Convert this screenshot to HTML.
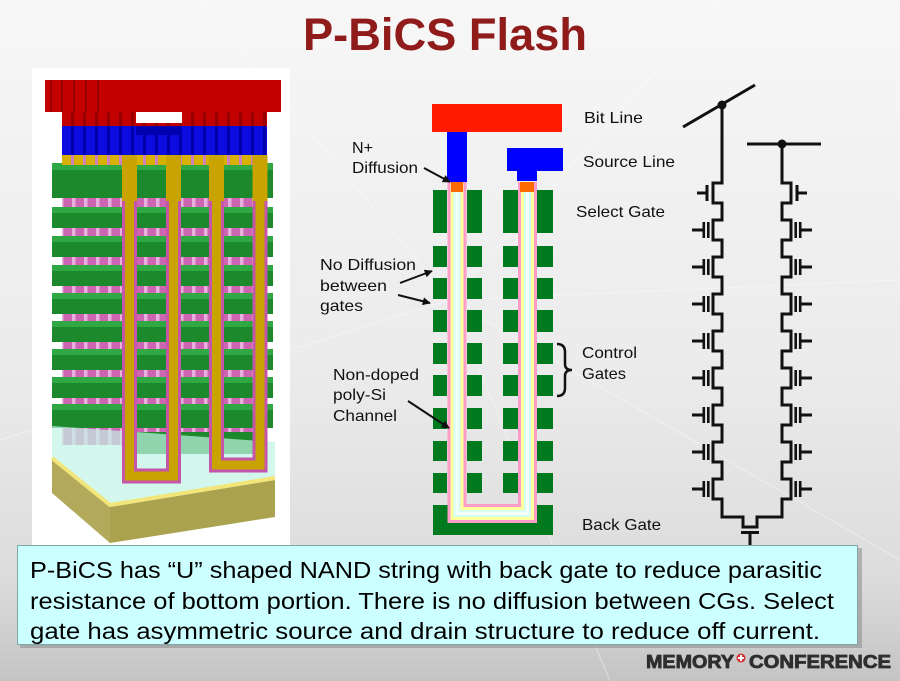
<!DOCTYPE html>
<html>
<head>
<meta charset="utf-8">
<style>
html,body{margin:0;padding:0;width:900px;height:681px;overflow:hidden;background:#eee;}
svg{display:block;}
</style>
</head>
<body>
<svg width="900" height="681" viewBox="0 0 900 681" xmlns="http://www.w3.org/2000/svg">
<defs>
  <linearGradient id="bg" x1="0" y1="0" x2="0" y2="1">
    <stop offset="0" stop-color="#f7f7f7"/>
    <stop offset="0.55" stop-color="#ebebeb"/>
    <stop offset="0.85" stop-color="#dcdcdc"/>
    <stop offset="1" stop-color="#c4c4c4"/>
  </linearGradient>
  <pattern id="pk" width="12" height="10" patternUnits="userSpaceOnUse" x="62" y="0">
    <rect width="12" height="10" fill="#e8b0dc"/>
    <rect x="1.5" width="8.5" height="10" fill="#cc66b2"/>
  </pattern>
  <pattern id="redst" width="12" height="10" patternUnits="userSpaceOnUse" x="62" y="0">
    <rect width="12" height="10" fill="#c20000"/>
    <rect x="9" width="3" height="10" fill="#980000"/>
  </pattern>
  <pattern id="bluest" width="12" height="10" patternUnits="userSpaceOnUse" x="62" y="0">
    <rect width="12" height="10" fill="#0c0ce0"/>
    <rect x="9" width="3" height="10" fill="#0000a8"/>
  </pattern>
  <pattern id="goldst" width="12" height="10" patternUnits="userSpaceOnUse" x="62" y="0">
    <rect width="12" height="10" fill="#d8b000"/>
    <rect x="9" width="3" height="10" fill="#d080b8"/>
  </pattern>
  <marker id="ah" viewBox="0 0 10 10" refX="9" refY="5" markerWidth="9" markerHeight="8" markerUnits="userSpaceOnUse" orient="auto">
    <path d="M0,0 L10,5 L0,10 z" fill="#111"/>
  </marker>
</defs>

<!-- background -->
<rect x="0" y="0" width="900" height="681" fill="url(#bg)"/>
<g stroke="#ffffff" stroke-opacity="0.35" stroke-width="1.2" fill="none">
  <path d="M450,300 L900,280"/>
  <path d="M450,300 L720,0"/>
  <path d="M450,300 L610,681"/>
  <path d="M450,300 L0,440"/>
  <path d="M450,300 L200,0"/>
  <path d="M450,300 L900,560"/>
</g>

<!-- Title -->
<text x="303" y="50" font-family="Liberation Sans, sans-serif" font-weight="bold" font-size="45" fill="#8f1b1b" textLength="284" lengthAdjust="spacingAndGlyphs">P-BiCS Flash</text>

<!-- ============ LEFT 3D STRUCTURE ============ -->
<rect x="32" y="68" width="258" height="477" fill="#ffffff"/>

<!-- pillars background -->
<rect x="62" y="155" width="205" height="290" fill="url(#pk)"/>

<!-- green bars -->
<g>
  <rect x="52" y="163" width="221" height="35" fill="#1c8a2c"/>
  <rect x="52" y="163" width="221" height="7" fill="#2fa843"/>

  <rect x="52" y="207" width="221" height="21" fill="#1c8a2c"/>
  <rect x="52" y="207" width="221" height="6" fill="#2fa843"/>
  <rect x="52" y="236" width="221" height="21" fill="#1c8a2c"/>
  <rect x="52" y="236" width="221" height="6" fill="#2fa843"/>
  <rect x="52" y="265" width="221" height="21" fill="#1c8a2c"/>
  <rect x="52" y="265" width="221" height="6" fill="#2fa843"/>
  <rect x="52" y="293" width="221" height="21" fill="#1c8a2c"/>
  <rect x="52" y="293" width="221" height="6" fill="#2fa843"/>
  <rect x="52" y="321" width="221" height="21" fill="#1c8a2c"/>
  <rect x="52" y="321" width="221" height="6" fill="#2fa843"/>
  <rect x="52" y="349" width="221" height="21" fill="#1c8a2c"/>
  <rect x="52" y="349" width="221" height="6" fill="#2fa843"/>
  <rect x="52" y="377" width="221" height="21" fill="#1c8a2c"/>
  <rect x="52" y="377" width="221" height="6" fill="#2fa843"/>
  <rect x="52" y="404" width="221" height="24" fill="#1c8a2c"/>
  <rect x="52" y="404" width="221" height="6" fill="#2fa843"/>
  <rect x="130" y="432" width="130" height="22" fill="#1c8a2c"/>
</g>

<!-- top stack -->
<rect x="62" y="152" width="205" height="13" fill="url(#goldst)"/>
<rect x="62" y="125" width="205" height="30" fill="url(#bluest)"/>
<rect x="136" y="125" width="46" height="10" fill="#0000b0"/>
<rect x="62" y="110" width="205" height="16" fill="url(#redst)"/>
<rect x="136" y="110" width="46" height="13" fill="#ffffff"/>
<rect x="45" y="80" width="236" height="32" fill="#c20000"/>
<g fill="#9a0000">
  <rect x="50" y="80" width="2" height="32"/>
  <rect x="61" y="80" width="2" height="32"/>
  <rect x="73" y="80" width="2" height="32"/>
  <rect x="85" y="80" width="2" height="32"/>
  <rect x="97" y="80" width="2" height="32"/>
</g>

<!-- cyan slab -->
<polygon points="52,426 275,442 275,480 110,507 52,460" fill="#c2f4e6" fill-opacity="0.7"/>

<!-- olive base -->
<polygon points="52,460 110,507 110,543 52,493" fill="#b2aa5a"/>
<polygon points="110,507 275,480 275,517 110,543" fill="#aaa24e"/>
<polyline points="52,458 110,505 275,478" fill="none" stroke="#f2e67a" stroke-width="4"/>

<!-- U channels -->
<g fill="none" stroke-linejoin="miter">
  <path d="M129.5,200 V476 H173.5 V200" stroke="#c455a8" stroke-width="15"/>
  <path d="M129.5,155 V476 H173.5 V155" stroke="#c9a400" stroke-width="9"/>
  <rect x="122" y="155" width="15" height="46" fill="#c9a400" stroke="none"/>
  <rect x="166" y="155" width="15" height="46" fill="#c9a400" stroke="none"/>

  <path d="M216.5,200 V465 H260 V200" stroke="#c455a8" stroke-width="15"/>
  <path d="M216.5,155 V465 H260 V155" stroke="#c9a400" stroke-width="9"/>
  <rect x="209" y="155" width="15" height="46" fill="#c9a400" stroke="none"/>
  <rect x="252.5" y="155" width="15" height="46" fill="#c9a400" stroke="none"/>
</g>

<!-- ============ MIDDLE CROSS-SECTION ============ -->
<rect x="432" y="104" width="130" height="28" fill="#ff1a00"/>
<rect x="447" y="132" width="20" height="50" fill="#0000ff"/>
<rect x="507" y="148" width="56" height="23" fill="#0000ff"/>
<rect x="517" y="170" width="20" height="11" fill="#0000ff"/>

<g fill="#007a1e">
  <rect x="433" y="190" width="14" height="43"/>
  <rect x="467" y="190" width="15" height="43"/>
  <rect x="503" y="190" width="15" height="43"/>
  <rect x="537" y="190" width="16" height="43"/>
  <g>
    <rect x="433" y="246" width="14" height="21"/><rect x="467" y="246" width="15" height="21"/><rect x="503" y="246" width="15" height="21"/><rect x="537" y="246" width="16" height="21"/>
    <rect x="433" y="278" width="14" height="21"/><rect x="467" y="278" width="15" height="21"/><rect x="503" y="278" width="15" height="21"/><rect x="537" y="278" width="16" height="21"/>
    <rect x="433" y="310" width="14" height="22"/><rect x="467" y="310" width="15" height="22"/><rect x="503" y="310" width="15" height="22"/><rect x="537" y="310" width="16" height="22"/>
    <rect x="433" y="343" width="14" height="21"/><rect x="467" y="343" width="15" height="21"/><rect x="503" y="343" width="15" height="21"/><rect x="537" y="343" width="16" height="21"/>
    <rect x="433" y="375" width="14" height="21"/><rect x="467" y="375" width="15" height="21"/><rect x="503" y="375" width="15" height="21"/><rect x="537" y="375" width="16" height="21"/>
    <rect x="433" y="408" width="14" height="21"/><rect x="467" y="408" width="15" height="21"/><rect x="503" y="408" width="15" height="21"/><rect x="537" y="408" width="16" height="21"/>
    <rect x="433" y="441" width="14" height="20"/><rect x="467" y="441" width="15" height="20"/><rect x="503" y="441" width="15" height="20"/><rect x="537" y="441" width="16" height="20"/>
    <rect x="433" y="473" width="14" height="20"/><rect x="467" y="473" width="15" height="20"/><rect x="503" y="473" width="15" height="20"/><rect x="537" y="473" width="16" height="20"/>
  </g>
  <rect x="433" y="505" width="120" height="30"/>
</g>

<g fill="none" stroke-linejoin="miter">
  <path d="M457,182 V513.5 H527.5 V182" stroke="#ff9cc8" stroke-width="19"/>
  <path d="M457,182 V513.5 H527.5 V182" stroke="#ffff9c" stroke-width="13"/>
  <path d="M457,182 V513.5 H527.5 V182" stroke="#d6fff2" stroke-width="7"/>
  <path d="M457,182 V513.5 H527.5 V182" stroke="#f2fffb" stroke-width="3"/>
</g>
<rect x="451" y="182" width="12" height="10" fill="#ff6a00"/>
<rect x="520" y="182" width="14" height="10" fill="#ff6a00"/>

<g font-family="Liberation Sans, sans-serif" font-size="16" fill="#111">
  <text x="584" y="123" textLength="59" lengthAdjust="spacingAndGlyphs">Bit Line</text>
  <text x="583" y="167" textLength="92" lengthAdjust="spacingAndGlyphs">Source Line</text>
  <text x="576" y="217" textLength="89" lengthAdjust="spacingAndGlyphs">Select Gate</text>
  <text x="582" y="358" textLength="55" lengthAdjust="spacingAndGlyphs">Control</text>
  <text x="582" y="379" textLength="44" lengthAdjust="spacingAndGlyphs">Gates</text>
  <text x="582" y="530" textLength="79" lengthAdjust="spacingAndGlyphs">Back Gate</text>

  <text x="352" y="153" textLength="21" lengthAdjust="spacingAndGlyphs">N+</text>
  <text x="352" y="173" textLength="66" lengthAdjust="spacingAndGlyphs">Diffusion</text>
  <text x="320" y="270" textLength="96" lengthAdjust="spacingAndGlyphs">No Diffusion</text>
  <text x="320" y="291" textLength="67" lengthAdjust="spacingAndGlyphs">between</text>
  <text x="320" y="311" textLength="43" lengthAdjust="spacingAndGlyphs">gates</text>
  <text x="333" y="380" textLength="86" lengthAdjust="spacingAndGlyphs">Non-doped</text>
  <text x="333" y="400" textLength="53" lengthAdjust="spacingAndGlyphs">poly-Si</text>
  <text x="333" y="421" textLength="64" lengthAdjust="spacingAndGlyphs">Channel</text>
</g>

<g stroke="#111" stroke-width="2" fill="none">
  <line x1="424" y1="168" x2="450" y2="182" marker-end="url(#ah)"/>
  <line x1="400" y1="283" x2="432" y2="271" marker-end="url(#ah)"/>
  <line x1="398" y1="295" x2="430" y2="303" marker-end="url(#ah)"/>
  <line x1="408" y1="401" x2="449" y2="428" marker-end="url(#ah)"/>
</g>
<path d="M557,344 Q565,344 565,352 V364 Q565,370 572,370 Q565,370 565,376 V388 Q565,396 557,396" fill="none" stroke="#111" stroke-width="2.5"/>

<!-- ============ RIGHT CIRCUIT ============ -->
<g stroke="#111" stroke-width="3" fill="none" stroke-linejoin="miter">
  <line x1="683" y1="127" x2="755" y2="85"/>
  <line x1="747" y1="144" x2="821" y2="144"/>
  <path d="M722,105 V183 H713 V203 H722 V220 H713 V240 H722 V257 H713 V277 H722 V294 H713 V314 H722 V331 H713 V351 H722 V368 H713 V388 H722 V405 H713 V425 H722 V442 H713 V462 H722 V479 H713 V499 H722 V517 H743 V527 H757 V517 H782 V499 H791 V479 H782 V462 H791 V442 H782 V425 H791 V405 H782 V388 H791 V368 H782 V351 H791 V331 H782 V314 H791 V294 H782 V277 H791 V257 H782 V240 H791 V220 H782 V203 H791 V183 H782 V144"/>
</g>
<circle cx="722" cy="105" r="4.5" fill="#111"/>
<circle cx="782" cy="144" r="4.5" fill="#111"/>

<g fill="#111">
  <rect x="705.5" y="185" width="3" height="16"/>
  <rect x="697" y="191.5" width="9" height="3"/>
  <rect x="795.5" y="185" width="3" height="16"/>
  <rect x="798" y="191.5" width="9" height="3"/>
  <rect x="741" y="531" width="18" height="3"/>
  <rect x="748.5" y="531" width="3" height="16"/>
</g>
<g fill="#111">
  <g transform="translate(0,220)"><rect x="707" y="2" width="2.6" height="16"/><rect x="702.5" y="2" width="2.6" height="16"/><rect x="692" y="8.5" width="11" height="3"/><rect x="794.4" y="2" width="2.6" height="16"/><rect x="798.9" y="2" width="2.6" height="16"/><rect x="801" y="8.5" width="11" height="3"/></g>
  <g transform="translate(0,257)"><rect x="707" y="2" width="2.6" height="16"/><rect x="702.5" y="2" width="2.6" height="16"/><rect x="692" y="8.5" width="11" height="3"/><rect x="794.4" y="2" width="2.6" height="16"/><rect x="798.9" y="2" width="2.6" height="16"/><rect x="801" y="8.5" width="11" height="3"/></g>
  <g transform="translate(0,294)"><rect x="707" y="2" width="2.6" height="16"/><rect x="702.5" y="2" width="2.6" height="16"/><rect x="692" y="8.5" width="11" height="3"/><rect x="794.4" y="2" width="2.6" height="16"/><rect x="798.9" y="2" width="2.6" height="16"/><rect x="801" y="8.5" width="11" height="3"/></g>
  <g transform="translate(0,331)"><rect x="707" y="2" width="2.6" height="16"/><rect x="702.5" y="2" width="2.6" height="16"/><rect x="692" y="8.5" width="11" height="3"/><rect x="794.4" y="2" width="2.6" height="16"/><rect x="798.9" y="2" width="2.6" height="16"/><rect x="801" y="8.5" width="11" height="3"/></g>
  <g transform="translate(0,368)"><rect x="707" y="2" width="2.6" height="16"/><rect x="702.5" y="2" width="2.6" height="16"/><rect x="692" y="8.5" width="11" height="3"/><rect x="794.4" y="2" width="2.6" height="16"/><rect x="798.9" y="2" width="2.6" height="16"/><rect x="801" y="8.5" width="11" height="3"/></g>
  <g transform="translate(0,405)"><rect x="707" y="2" width="2.6" height="16"/><rect x="702.5" y="2" width="2.6" height="16"/><rect x="692" y="8.5" width="11" height="3"/><rect x="794.4" y="2" width="2.6" height="16"/><rect x="798.9" y="2" width="2.6" height="16"/><rect x="801" y="8.5" width="11" height="3"/></g>
  <g transform="translate(0,442)"><rect x="707" y="2" width="2.6" height="16"/><rect x="702.5" y="2" width="2.6" height="16"/><rect x="692" y="8.5" width="11" height="3"/><rect x="794.4" y="2" width="2.6" height="16"/><rect x="798.9" y="2" width="2.6" height="16"/><rect x="801" y="8.5" width="11" height="3"/></g>
  <g transform="translate(0,479)"><rect x="707" y="2" width="2.6" height="16"/><rect x="702.5" y="2" width="2.6" height="16"/><rect x="692" y="8.5" width="11" height="3"/><rect x="794.4" y="2" width="2.6" height="16"/><rect x="798.9" y="2" width="2.6" height="16"/><rect x="801" y="8.5" width="11" height="3"/></g>
</g>

<!-- ============ TEXT BOX ============ -->
<rect x="20" y="548" width="842" height="100" fill="#8a8a8a" fill-opacity="0.55"/>
<rect x="17.5" y="545.5" width="840" height="99" fill="#ccffff" stroke="#7fa6a6" stroke-width="1"/>
<g font-family="Liberation Sans, sans-serif" font-size="23" fill="#000">
  <text x="30" y="578" textLength="792" lengthAdjust="spacingAndGlyphs">P-BiCS has “U” shaped NAND string with back gate to reduce parasitic</text>
  <text x="30" y="609" textLength="804" lengthAdjust="spacingAndGlyphs">resistance of bottom portion. There is no diffusion between CGs. Select</text>
  <text x="30" y="639" textLength="790" lengthAdjust="spacingAndGlyphs">gate has asymmetric source and drain structure to reduce off current.</text>
</g>

<!-- logo -->
<g font-family="Liberation Sans, sans-serif" font-weight="bold" font-size="18" fill="#2e2e2e" stroke="#2e2e2e" stroke-width="0.8">
  <text x="646" y="668" textLength="88" lengthAdjust="spacingAndGlyphs">MEMORY</text>
  <text x="749" y="668" textLength="142" lengthAdjust="spacingAndGlyphs">CONFERENCE</text>
</g>
<circle cx="741" cy="658" r="4.5" fill="#d23030"/>
<rect x="740" y="655" width="2" height="6" fill="#ffffff"/>
<rect x="738" y="657" width="6" height="2" fill="#ffffff"/>
</svg>
</body>
</html>
